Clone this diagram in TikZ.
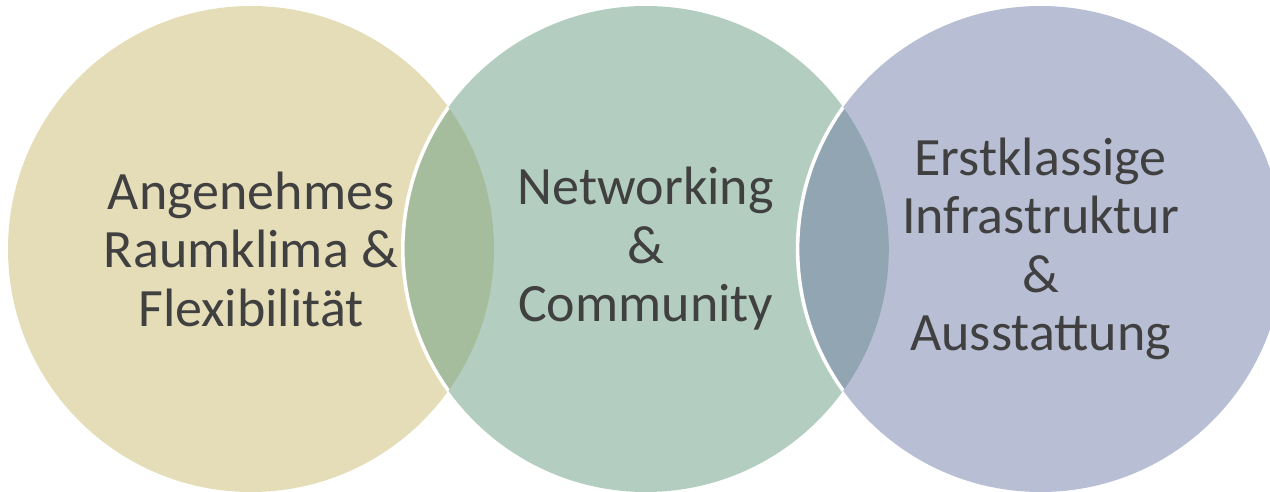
\documentclass[tikz,border=0pt]{standalone}
\usepackage{fontspec}
\setmainfont{Carlito}
\usetikzlibrary{positioning}
\definecolor{cgld}{HTML}{CBBB71}
\definecolor{cgrn}{HTML}{679D81}
\definecolor{cblu}{HTML}{717DA7}
\definecolor{ctxt}{HTML}{404040}
\tikzset{
  blob/.style ={circle, minimum size=243pt, inner sep=0pt, fill opacity=0.5,
                text opacity=1, text=ctxt, align=center,
                font=\fontsize{27}{29.25}\selectfont},
  rim/.style  ={draw=white, line width=1.8pt},
}
\begin{document}
\begin{tikzpicture}[x=0.5pt, y=-0.5pt, node distance=-46pt]
  \useasboundingbox (0,0) rectangle (1270,492);
  \clip (0,0) rectangle (1270,492);
  \node[blob, fill=cgld] (L) at (251,249) {Angenehmes\\Raumklima \&\\Flexibilität};
  \node[blob, fill=cgrn, right=of L] (M) {Networking\\\&\\Community};
  \node[blob, fill=cblu, right=of M] (R) {Erstklassige\\Infrastruktur\\\&\\Ausstattung};

  \begin{scope}
    \clip (L.center) circle[radius=121.5pt];
    \draw[rim] (M.center) circle[radius=121.5pt];
  \end{scope}
  \begin{scope}
    \clip (M.center) circle[radius=121.5pt];
    \draw[rim] (R.center) circle[radius=121.5pt];
  \end{scope}
\end{tikzpicture}
\end{document}
